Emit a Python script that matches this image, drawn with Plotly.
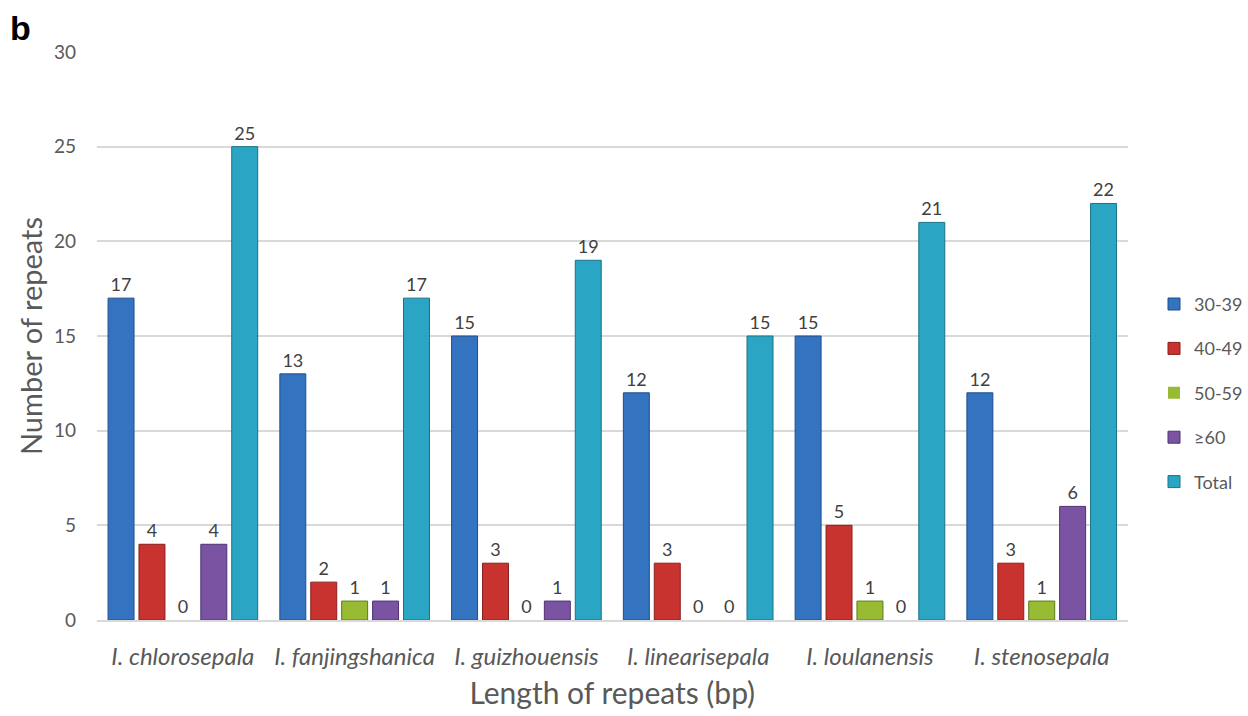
import plotly.graph_objects as go

species = ["I. chlorosepala", "I. fanjingshanica", "I. guizhouensis",
           "I. linearisepala", "I. loulanensis", "I. stenosepala"]
r30_39 = [17, 13, 15, 12, 15, 12]
r40_49 = [4, 2, 3, 3, 5, 3]
r50_59 = [0, 1, 0, 0, 1, 1]
r60 = [4, 1, 1, 0, 0, 6]
total = [25, 17, 19, 15, 21, 22]

series = [
    ("30-39", r30_39, "#3473c0", "#1f4f8a"),
    ("40-49", r40_49, "#c9332f", "#8a1f1c"),
    ("50-59", r50_59, "#98bb34", "#5f7a1c"),
    ("≥60", r60, "#7a54a3", "#4d3270"),
    ("Total", total, "#2ba5c4", "#1a7288"),
]

FONT = "Lato, 'Open Sans', sans-serif"
GREY = "#595959"

fig = go.Figure()
for name, vals, col, edge in series:
    fig.add_trace(go.Bar(
        x=[f"<i>{s}</i>" for s in species], y=vals, name=name,
        marker=dict(color=col,
                    line=dict(color=edge, width=[0 if v == 0 else 1 for v in vals])),
        text=[str(v) for v in vals], textposition="outside",
        textfont=dict(size=18, color="#404040", family=FONT),
        cliponaxis=False, legendgroup=name,
    ))

# paper area spans 97..1248 px; the axes occupy 97..1133 px of it
L, R, T, B = 97, 0, 52, 96
paper_w = 1248 - L - R
plot_h = 716 - T - B
x_end = (1133 - L) / paper_w

fig.update_layout(
    width=1248, height=716,
    paper_bgcolor="white", plot_bgcolor="white",
    margin=dict(l=L, r=R, t=T, b=B),
    barmode="group", bargap=0.10, bargroupgap=0.16,
    font=dict(family=FONT, color=GREY),
    legend=dict(x=(1160 - L) / paper_w, y=0.40, xanchor="left", yanchor="middle",
                font=dict(size=18, color=GREY), tracegroupgap=18,
                itemwidth=30),
    showlegend=True,
    annotations=[dict(text="<b>b</b>", x=(8 - L) / paper_w, y=1 + (T - 28) / plot_h,
                      xref="paper", yref="paper", showarrow=False,
                      font=dict(size=34, color="black", family="Liberation Sans, Arial"),
                      xanchor="left", yanchor="middle")],
)

fig.update_yaxes(range=[0, 30], dtick=5, showgrid=True, gridcolor="#d9d9d9",
                 gridwidth=1.5, zeroline=False, showline=False,
                 ticklabelstandoff=20, tickfont=dict(size=19, color=GREY),
                 title=dict(text="Number of repeats", font=dict(size=29, color=GREY),
                            standoff=2))
fig.update_xaxes(domain=[0, x_end], showline=True, linecolor="#d9d9d9", linewidth=1.5,
                 ticklabelstandoff=14,
                 tickfont=dict(size=24, color=GREY),
                 title=dict(text="Length of repeats (bp)", font=dict(size=30, color=GREY),
                            standoff=14))

fig.write_html("out.html")
